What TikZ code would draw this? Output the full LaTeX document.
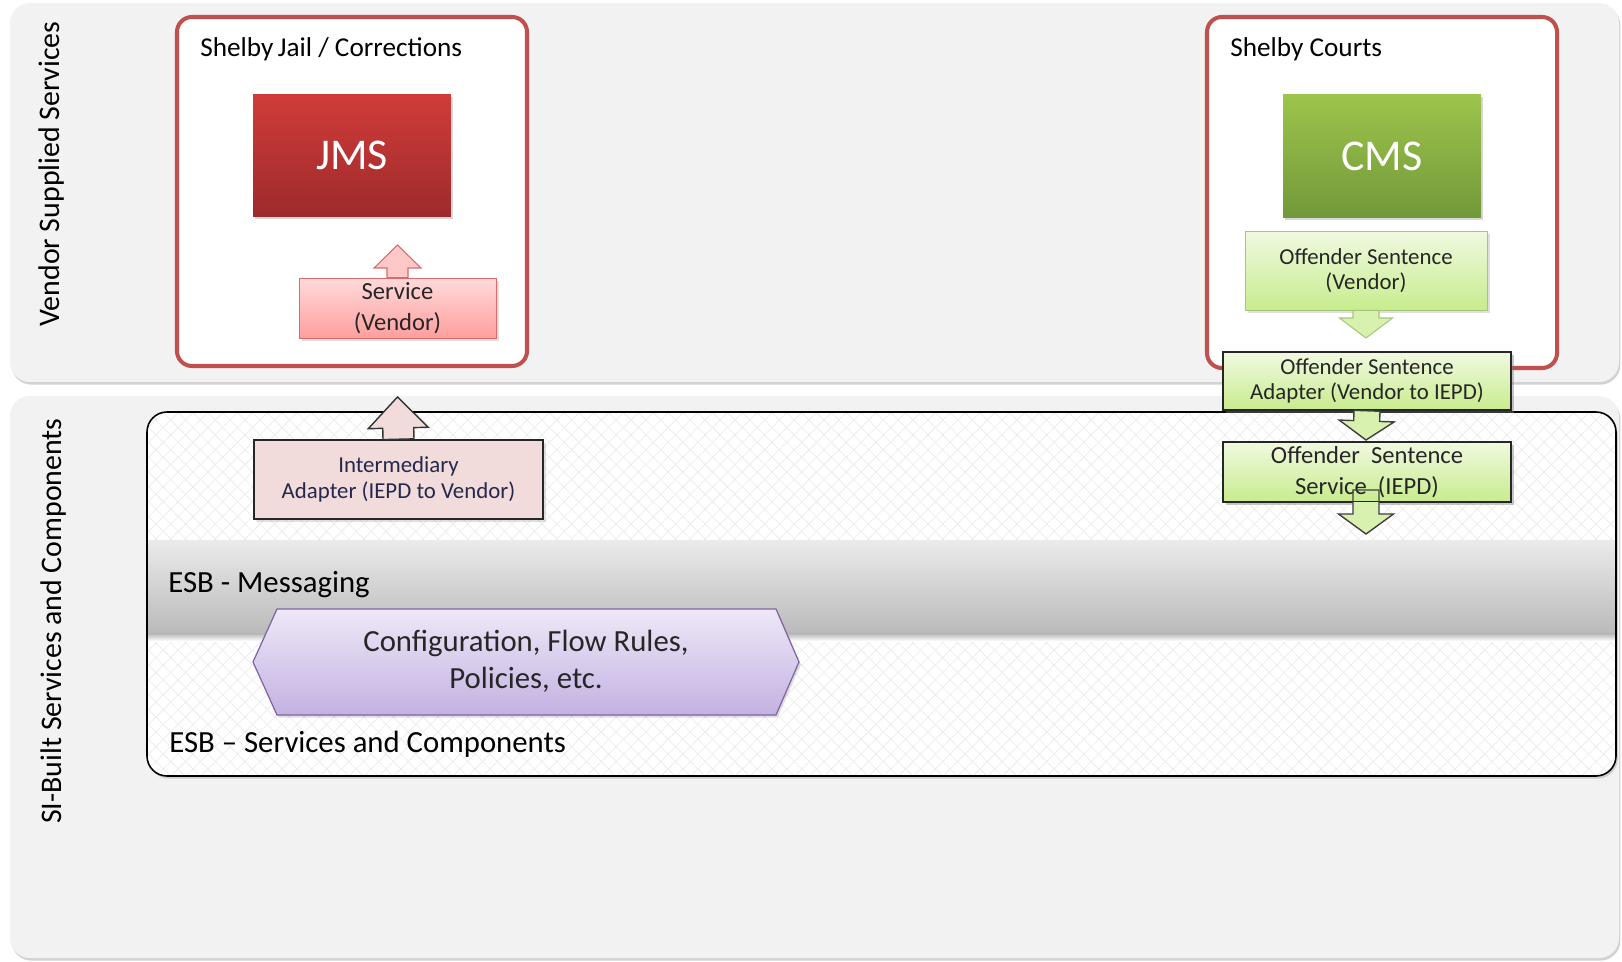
\documentclass[tikz,border=0pt]{standalone}
\usepackage{fontspec}
\setmainfont{Carlito}
\usetikzlibrary{positioning, calc, shadows, patterns.meta}

\definecolor{lanegray}{HTML}{F2F2F2}
\definecolor{sysred}{HTML}{C0504D}
\definecolor{jmstop}{HTML}{D03C3A}
\definecolor{jmsbot}{HTML}{9E2A2B}
\definecolor{cmstop}{HTML}{9DC44B}
\definecolor{cmsbot}{HTML}{72993A}
\definecolor{pinktop}{HTML}{FFDADA}
\definecolor{pinkbot}{HTML}{FF9E9E}
\definecolor{pinkline}{HTML}{D9696B}
\definecolor{greentop}{HTML}{F0F9E0}
\definecolor{greenbot}{HTML}{C8EC8E}
\definecolor{greenline}{HTML}{A6C77A}
\definecolor{adaptfill}{HTML}{F2DCDB}
\definecolor{navytext}{HTML}{24284C}
\definecolor{lavtop}{HTML}{EEE8F7}
\definecolor{lavbot}{HTML}{C4B1E2}
\definecolor{lavline}{HTML}{8064A2}
\definecolor{hatch}{HTML}{EAEAEA}

% block arrow: style, from, tip, shaft half width, head half width, head length
\newcommand{\blockarrow}[6]{%
  \coordinate (hb) at ($(#3)!#6!(#2)$);
  \path[#1] ($(#2)!#4!90:(#3)$) -- ($(hb)!#4!90:(#3)$) -- ($(hb)!#5!90:(#3)$) -- (#3)
    -- ($(hb)!#5!-90:(#3)$) -- ($(hb)!#4!-90:(#3)$) -- ($(#2)!#4!-90:(#3)$) -- cycle;
}

\begin{document}
\begin{tikzpicture}[
  x=0.02cm, y=-0.02cm,
  lane/.style={fill=lanegray, rounded corners=0.4cm,
    drop shadow={shadow xshift=0.8pt, shadow yshift=-1.5pt, opacity=0.35, fill=gray}},
  lanelabel/.style={rotate=90, inner sep=0pt, font=\fontsize{17}{20}\selectfont},
  system/.style={draw=sysred, line width=2.3pt, fill=white, rounded corners=0.3cm},
  systitle/.style={anchor=west, inner sep=0pt, font=\fontsize{15.5}{18}\selectfont},
  app/.style={rectangle, text=white, font=\fontsize{25}{30}\selectfont,
    minimum width=3.96cm, minimum height=2.45cm,
    drop shadow={shadow xshift=1pt, shadow yshift=-1.5pt, opacity=0.3}},
  svcbox/.style={rectangle, align=center, inner sep=1pt, text=black!85,
    drop shadow={shadow xshift=1.5pt, shadow yshift=-1.5pt, opacity=0.25}},
  vendsvc/.style={svcbox, draw=pinkline, top color=pinktop, bottom color=pinkbot},
  greensvc/.style={svcbox, top color=greentop, bottom color=greenbot},
  adapter/.style={svcbox, draw=black!85, line width=0.9pt},
  pinkarrow/.style={draw=pinkline, fill=pinktop!70!pinkbot, line width=0.6pt},
  interarrow/.style={draw=black!80, fill=adaptfill, line width=0.8pt},
  greenarrow/.style={draw=greenline, fill=greentop!40!greenbot, line width=0.6pt},
  darkarrow/.style={draw=black!75, fill=greentop!40!greenbot, line width=0.8pt},
  esbtext/.style={anchor=west, inner sep=0pt, font=\fontsize{17.5}{21}\selectfont}
]
\useasboundingbox (0,0) rectangle (1622,962);

% Lanes
\path[lane] (10,3) rectangle (1619,382);
\path[lane] (10,396) rectangle (1619,958);
\node[lanelabel] (vendlane) at (52,174) {Vendor Supplied Services};
\node[lanelabel] (silane) at (54,621) {SI-Built Services and Components};

% ESB
\path[fill=white, rounded corners=0.4cm,
  drop shadow={shadow xshift=1pt, shadow yshift=-1.5pt, opacity=0.3}] (147,412) rectangle (1616,776);
\begin{scope}
  \clip[rounded corners=0.4cm] (147,412) rectangle (1616,776);
  \fill[pattern={Lines[angle=45, distance=0.21cm, line width=0.35pt]}, pattern color=hatch] (147,412) rectangle (1616,776);
  \fill[pattern={Lines[angle=-45, distance=0.21cm, line width=0.35pt]}, pattern color=hatch] (147,412) rectangle (1616,776);
  \shade[top color=black!8, bottom color=black!27] (140,540) rectangle (1620,633);
  \shade[top color=black!30, bottom color=white] (140,633) rectangle (1620,641);
\end{scope}
\draw[rounded corners=0.4cm, line width=0.9pt] (147,412) rectangle (1616,776);
\node[esbtext] (msg) at (168,585) {ESB - Messaging};
\node[esbtext] (esbsvc) at (169,744) {ESB -- Services and Components};

\draw[draw=lavline, line width=0.7pt, top color=lavtop, bottom color=lavbot,
  drop shadow={shadow xshift=1pt, shadow yshift=-1.5pt, opacity=0.25}]
  (253,662) -- (277,609) -- (776,609) -- (799,662) -- (776,715) -- (277,715) -- cycle;
\node[align=center, font=\fontsize{17.5}{21}\selectfont, text=black!85] (rules) at (526,661)
  {Configuration, Flow Rules,\\Policies, etc.};

% Systems
\path[system] (177,17) rectangle (527,366);
\node[systitle] (jail) at (200,49) {Shelby\,Jail / Corrections};
\path[system] (1207,17) rectangle (1557,368);
\node[systitle] (courts) at (1230,49) {Shelby Courts};

\node[app, top color=jmstop, bottom color=jmsbot] (jms) at (352,155.5) {JMS};
\node[app, top color=cmstop, bottom color=cmsbot] (cms) at (1382,156) {CMS};

\node[vendsvc, minimum width=3.94cm, minimum height=1.2cm,
  font=\fontsize{14}{17.6}\selectfont] (svc) at (397.5,308) {Service\\(Vendor)};
\node[greensvc, draw=greenline, minimum width=4.84cm, minimum height=1.58cm,
  font=\fontsize{13}{14.3}\selectfont] (osvend) at (1366,270.5) {Offender Sentence\\(Vendor)};
\node[greensvc, adapter, minimum width=5.76cm, minimum height=1.16cm,
  font=\fontsize{13}{14.3}\selectfont] (osadapt) at (1367,381) {Offender Sentence\\Adapter (Vendor to IEPD)};
\node[greensvc, adapter, minimum width=5.76cm, minimum height=1.2cm,
  font=\fontsize{14}{17.6}\selectfont] (osiepd) at (1367,472) {Offender\ \ Sentence\\Service\ \ (IEPD)};
\node[adapter, fill=adaptfill, text=navytext, minimum width=5.78cm, minimum height=1.58cm,
  font=\fontsize{13}{14.8}\selectfont] (inter) at (398.5,479.5) {Intermediary\\Adapter (IEPD to Vendor)};

% Arrows
\coordinate (svctip) at (397.5,245);
\coordinate (intertip) at (397.5,397);
\coordinate (vendtip) at (1366,338);
\coordinate (adapttip) at (1366,440);
\coordinate (iepdtip) at (1366,534);
\coordinate (iepdfoot) at (1366,490);

\blockarrow{pinkarrow}{svc.north}{svctip}{0.21cm}{0.47cm}{0.46cm}
\blockarrow{interarrow}{inter.north}{intertip}{0.31cm}{0.6cm}{0.62cm}
\blockarrow{greenarrow}{osvend.south}{vendtip}{0.26cm}{0.53cm}{0.4cm}
\blockarrow{darkarrow}{osadapt.south}{adapttip}{0.26cm}{0.55cm}{0.38cm}
\begin{scope}
  \clip (osiepd.south west) rectangle (1622,962);
  \blockarrow{fill=greentop!40!greenbot}{iepdfoot}{iepdtip}{0.26cm}{0.55cm}{0.4cm}
\end{scope}
\blockarrow{draw=black!75, line width=0.8pt}{iepdfoot}{iepdtip}{0.26cm}{0.55cm}{0.4cm}

\end{tikzpicture}
\end{document}
